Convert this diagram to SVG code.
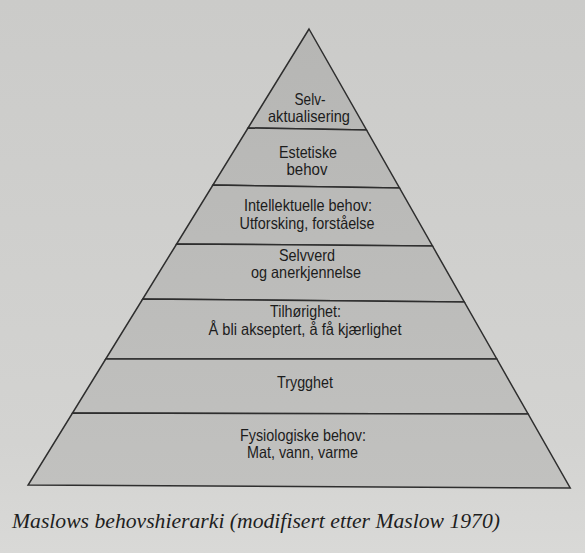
<svg xmlns="http://www.w3.org/2000/svg" width="585" height="553" viewBox="0 0 585 553">
<defs>
<linearGradient id="bg" x1="0" y1="0" x2="0" y2="1">
<stop offset="0" stop-color="#cbcbc9"/>
<stop offset="0.8" stop-color="#d3d3d1"/>
<stop offset="1" stop-color="#d9d9d7"/>
</linearGradient>
<linearGradient id="pf" gradientUnits="userSpaceOnUse" x1="0" y1="29" x2="0" y2="488">
<stop offset="0" stop-color="#b6b6b4"/>
<stop offset="1" stop-color="#c1c1bf"/>
</linearGradient>
<style>
.tier{fill:url(#pf);stroke:#2e2e2e;stroke-width:1.5;stroke-linejoin:miter}
.lbl{font-family:"Liberation Sans",Arial,sans-serif;font-size:16.5px;fill:#1c1c1c;text-anchor:middle}
.cap{font-family:"Liberation Serif","Times New Roman",serif;font-style:italic;font-size:20px;fill:#1e1e1e}
</style>
</defs>
<rect x="0" y="0" width="585" height="553" fill="url(#bg)"/>
<g id="tier1">
<polygon class="tier" points="309,29 366.5,130 248,128"/>
<text class="lbl" x="310" y="105" textLength="31" lengthAdjust="spacingAndGlyphs">Selv-</text>
<text class="lbl" x="309" y="122" textLength="82" lengthAdjust="spacingAndGlyphs">aktualisering</text>
</g>
<g id="tier2">
<polygon class="tier" points="248,128 366.5,130 399.5,188 212.9,185"/>
<text class="lbl" x="308" y="158" textLength="58" lengthAdjust="spacingAndGlyphs">Estetiske</text>
<text class="lbl" x="307" y="175" textLength="41" lengthAdjust="spacingAndGlyphs">behov</text>
</g>
<g id="tier3">
<polygon class="tier" points="212.9,185 399.5,188 432.5,246 176.6,244"/>
<text class="lbl" x="308" y="211" textLength="128" lengthAdjust="spacingAndGlyphs">Intellektuelle behov:</text>
<text class="lbl" x="307" y="229" textLength="135" lengthAdjust="spacingAndGlyphs">Utforsking, forståelse</text>
</g>
<g id="tier4">
<polygon class="tier" points="176.6,244 432.5,246 464.3,302 142.7,299"/>
<text class="lbl" x="307" y="261" textLength="56" lengthAdjust="spacingAndGlyphs">Selvverd</text>
<text class="lbl" x="306" y="278" textLength="110" lengthAdjust="spacingAndGlyphs">og anerkjennelse</text>
</g>
<g id="tier5">
<polygon class="tier" points="142.7,299 464.3,302 496.8,359 105.7,359"/>
<text class="lbl" x="305.5" y="317" textLength="71" lengthAdjust="spacingAndGlyphs">Tilhørighet:</text>
<text class="lbl" x="305" y="335" textLength="193" lengthAdjust="spacingAndGlyphs">Å bli akseptert, å få kjærlighet</text>
</g>
<g id="tier6">
<polygon class="tier" points="105.7,359 496.8,359 528.1,414 72.5,413"/>
<text class="lbl" x="305" y="388" textLength="56" lengthAdjust="spacingAndGlyphs">Trygghet</text>
</g>
<g id="tier7">
<polygon class="tier" points="72.5,413 528.1,414 570.2,488 28.1,485"/>
<text class="lbl" x="303" y="441" textLength="126" lengthAdjust="spacingAndGlyphs">Fysiologiske behov:</text>
<text class="lbl" x="302.5" y="458" textLength="111" lengthAdjust="spacingAndGlyphs">Mat, vann, varme</text>
</g>
<g id="connectors"></g>
<g id="caption">
<text class="cap" x="12" y="528" textLength="488" lengthAdjust="spacingAndGlyphs">Maslows behovshierarki (modifisert etter Maslow 1970)</text>
</g>
</svg>
